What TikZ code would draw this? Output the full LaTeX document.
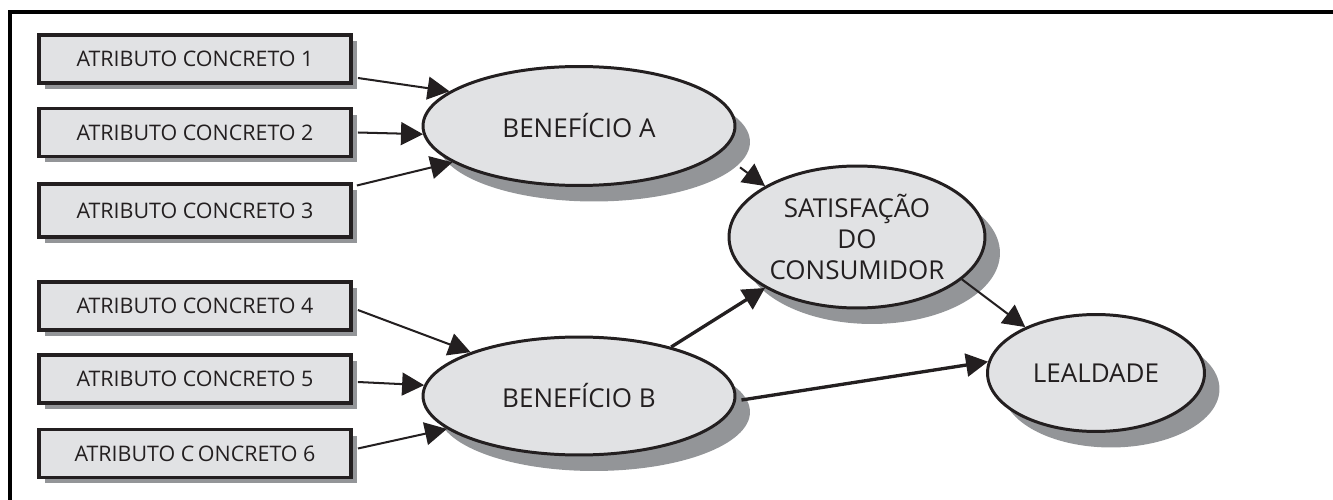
\documentclass[tikz,border=0pt]{standalone}
\usepackage{fontspec}
\setmainfont{Open Sans}
\usepackage{tikz}
\usetikzlibrary{positioning, arrows.meta, shapes.geometric, shadows}
\definecolor{boxfill}{HTML}{E1E2E4}
\definecolor{shadecolor}{HTML}{939598}
\definecolor{inkcolor}{HTML}{231F20}
\tikzset{
    attrnode/.style  = {draw=inkcolor, line width=2.2pt, fill=boxfill, text=inkcolor,
                        minimum width=6.24cm, minimum height=0.96cm, inner sep=0pt,
                        font=\fontsize{12.2}{14}\selectfont,
                        drop shadow={shadow xshift=0.12cm, shadow yshift=-0.12cm,
                        fill=shadecolor, opacity=1}},
    latnode/.style   = {ellipse, draw=inkcolor, line width=1.7pt, fill=boxfill,
                        text=inkcolor, inner sep=0pt, align=center,
                        font=\fontsize{14.8}{17.6}\selectfont,
                        drop shadow={shadow xshift=0.3cm, shadow yshift=-0.32cm,
                        fill=shadecolor, opacity=1}},
    edge/.style      = {-{Triangle[length=12.5pt, width=13pt]}, line width=1.15pt, inkcolor},
    thickedge/.style = {edge, line width=1.9pt},
}
\begin{document}
\begin{tikzpicture}[x=0.02cm, y=-0.02cm]
\useasboundingbox (0,0) rectangle (1333,500);

% frame
\draw[line width=0.08cm, black] (10,500) -- (10,12) -- (1333,12);

% concrete attributes
\node[attrnode] (a1) at (195,59)    {ATRIBUTO CONCRETO 1};
\node[attrnode] (a2) at (195,132.5) {ATRIBUTO CONCRETO 2};
\node[attrnode, minimum height=1.06cm] (a3) at (195,210.5) {ATRIBUTO CONCRETO 3};
\node[attrnode] (a4) at (195,306)   {ATRIBUTO CONCRETO 4};
\node[attrnode] (a5) at (195,379)   {ATRIBUTO CONCRETO 5};
\node[attrnode] (a6) at (195,453.5) {ATRIBUTO C\,ONCRETO 6};

% latent constructs
\node[latnode, minimum width=6.24cm, minimum height=2.38cm] (benA) at (579,126) {BENEFÍCIO A};
\node[latnode, minimum width=6.24cm, minimum height=2.36cm] (benB) at (579,396) {BENEFÍCIO B};
\node[latnode, minimum width=5.12cm, minimum height=2.84cm] (sat)  at (857,237)
    {SATISFAÇÃO\\DO\\CONSUMIDOR};
\node[latnode, minimum width=4.34cm, minimum height=2.34cm] (leal) at (1096,373) {LEALDADE};

\draw[edge] ([xshift=0.1cm, yshift=-0.38cm]a1.east) -- (benA.165);
\draw[edge] ([xshift=0.1cm]a2.east) -- (benA.183);
\draw[edge] ([xshift=0.08cm, yshift=0.5cm]a3.east) -- (benA.196);
\draw[edge] ([xshift=0.1cm, yshift=-0.08cm]a4.east) -- (benB.158);
\draw[edge] ([xshift=0.1cm, yshift=-0.06cm]a5.east) -- (benB.176);
\draw[edge] ([xshift=0.1cm, yshift=0.1cm]a6.east) -- (benB.194);

\draw[edge] ([xshift=0.46cm, yshift=-0.24cm]benA.-12) -- (sat.151);
\draw[thickedge] (benB.28) -- (sat.209);
\draw[thickedge] ([xshift=0.1cm, yshift=-0.08cm]benB.east) -- (leal.174);
\draw[edge] (sat.-22) -- (leal.147);

\end{tikzpicture}
\end{document}
